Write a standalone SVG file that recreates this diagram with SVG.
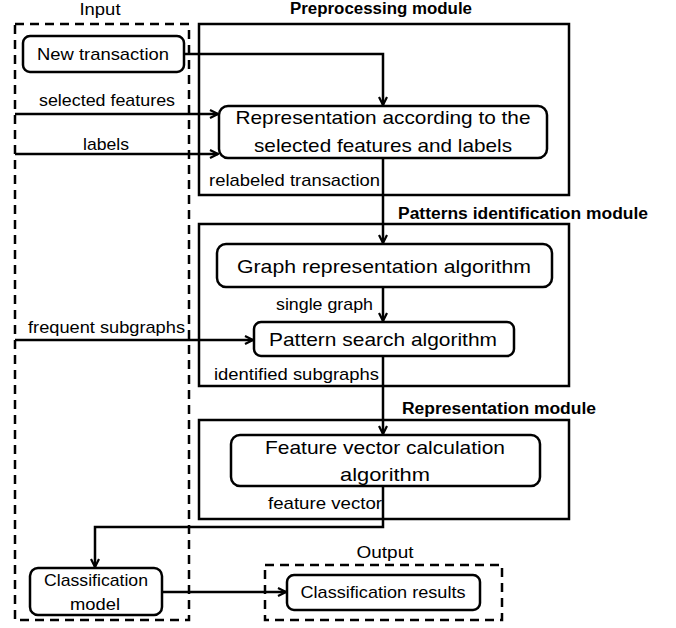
<svg xmlns="http://www.w3.org/2000/svg" width="676" height="628" viewBox="0 0 676 628">
<defs>
<marker id="arr" viewBox="0 0 10 10" refX="9" refY="5" markerWidth="10" markerHeight="10" markerUnits="userSpaceOnUse" orient="auto">
<path d="M1,1 L9,5 L1,9" fill="none" stroke="#000" stroke-width="2.2"/>
</marker>
</defs>
<style>
.t{font-family:"Liberation Sans",Arial,sans-serif;font-size:17px;fill:#000;}
.m{font-family:"Liberation Sans",Arial,sans-serif;font-size:19px;fill:#000;}
.b{font-family:"Liberation Sans",Arial,sans-serif;font-size:16px;font-weight:bold;fill:#000;}
.node{fill:#fff;stroke:#000;stroke-width:2.5;}
.mod{fill:none;stroke:#000;stroke-width:2.5;}
.dash{fill:none;stroke:#000;stroke-width:2.5;stroke-dasharray:9,6;}
.c{fill:none;stroke:#000;stroke-width:2.5;}
</style>
<rect width="676" height="628" fill="#fff"/>

<g id="input-group">
<rect class="dash" x="15" y="24" width="174" height="596"/>
<text class="t" x="100" y="15" text-anchor="middle" textLength="41" lengthAdjust="spacingAndGlyphs">Input</text>
</g>

<g id="preprocessing-module">
<rect class="mod" x="199" y="24" width="370" height="171"/>
<text class="b" x="381" y="14" text-anchor="middle" textLength="182" lengthAdjust="spacingAndGlyphs">Preprocessing module</text>
</g>

<g id="patterns-module">
<rect class="mod" x="199" y="224" width="370" height="162"/>
<text class="b" x="398" y="219" textLength="250" lengthAdjust="spacingAndGlyphs">Patterns identification module</text>
</g>

<g id="representation-module">
<rect class="mod" x="199" y="420" width="370" height="99"/>
<text class="b" x="402" y="414" textLength="194" lengthAdjust="spacingAndGlyphs">Representation module</text>
</g>

<g id="output-group">
<rect class="dash" x="265" y="565" width="237" height="55"/>
<text class="t" x="385" y="558" text-anchor="middle" textLength="57" lengthAdjust="spacingAndGlyphs">Output</text>
</g>

<g id="connectors">
<polyline class="c" points="184,54 383,54 383,105" marker-end="url(#arr)"/>
<line class="c" x1="15" y1="114" x2="218" y2="114" marker-end="url(#arr)"/>
<line class="c" x1="15" y1="154" x2="218" y2="154" marker-end="url(#arr)"/>
<line class="c" x1="383" y1="158" x2="383" y2="243" marker-end="url(#arr)"/>
<line class="c" x1="383" y1="287" x2="383" y2="321" marker-end="url(#arr)"/>
<line class="c" x1="15" y1="340" x2="253" y2="340" marker-end="url(#arr)"/>
<line class="c" x1="383" y1="356" x2="383" y2="434" marker-end="url(#arr)"/>
<polyline class="c" points="383,486 383,527 95,527 95,567" marker-end="url(#arr)"/>
<line class="c" x1="162" y1="592" x2="286" y2="592" marker-end="url(#arr)"/>
<text class="t" x="107" y="106" text-anchor="middle" textLength="136" lengthAdjust="spacingAndGlyphs">selected features</text>
<text class="t" x="106" y="150" text-anchor="middle" textLength="46" lengthAdjust="spacingAndGlyphs">labels</text>
<text class="t" x="209" y="186" textLength="171" lengthAdjust="spacingAndGlyphs">relabeled transaction</text>
<text class="t" x="276" y="310" textLength="97" lengthAdjust="spacingAndGlyphs">single graph</text>
<text class="t" x="28" y="333" textLength="157" lengthAdjust="spacingAndGlyphs">frequent subgraphs</text>
<text class="t" x="214" y="380" textLength="165" lengthAdjust="spacingAndGlyphs">identified subgraphs</text>
<text class="t" x="268" y="509" textLength="114" lengthAdjust="spacingAndGlyphs">feature vector</text>
</g>

<g id="new-transaction">
<rect class="node" x="23" y="36" width="161" height="36" rx="7"/>
<text class="t" x="103" y="60" text-anchor="middle" textLength="132" lengthAdjust="spacingAndGlyphs">New transaction</text>
</g>

<g id="representation-node">
<rect class="node" x="219" y="106" width="328" height="52" rx="9"/>
<text class="m" x="383" y="124" text-anchor="middle" textLength="295" lengthAdjust="spacingAndGlyphs">Representation according to the</text>
<text class="m" x="383" y="152" text-anchor="middle" textLength="258" lengthAdjust="spacingAndGlyphs">selected features and labels</text>
</g>

<g id="graph-representation">
<rect class="node" x="217" y="244" width="335" height="43" rx="9"/>
<text class="m" x="384" y="273" text-anchor="middle" textLength="294" lengthAdjust="spacingAndGlyphs">Graph representation algorithm</text>
</g>

<g id="pattern-search">
<rect class="node" x="254" y="322" width="260" height="34" rx="7"/>
<text class="m" x="383" y="346" text-anchor="middle" textLength="228" lengthAdjust="spacingAndGlyphs">Pattern search algorithm</text>
</g>

<g id="feature-vector">
<rect class="node" x="231" y="435" width="309" height="51" rx="9"/>
<text class="m" x="385" y="454" text-anchor="middle" textLength="240" lengthAdjust="spacingAndGlyphs">Feature vector calculation</text>
<text class="m" x="385" y="481" text-anchor="middle" textLength="90" lengthAdjust="spacingAndGlyphs">algorithm</text>
</g>

<g id="classification-model">
<rect class="node" x="30" y="568" width="132" height="47" rx="8"/>
<text class="t" x="96" y="586" text-anchor="middle" textLength="104" lengthAdjust="spacingAndGlyphs">Classification</text>
<text class="t" x="95" y="610" text-anchor="middle" textLength="50" lengthAdjust="spacingAndGlyphs">model</text>
</g>

<g id="classification-results">
<rect class="node" x="287" y="575" width="193" height="35" rx="7"/>
<text class="t" x="383" y="598" text-anchor="middle" textLength="165" lengthAdjust="spacingAndGlyphs">Classification results</text>
</g>
</svg>
